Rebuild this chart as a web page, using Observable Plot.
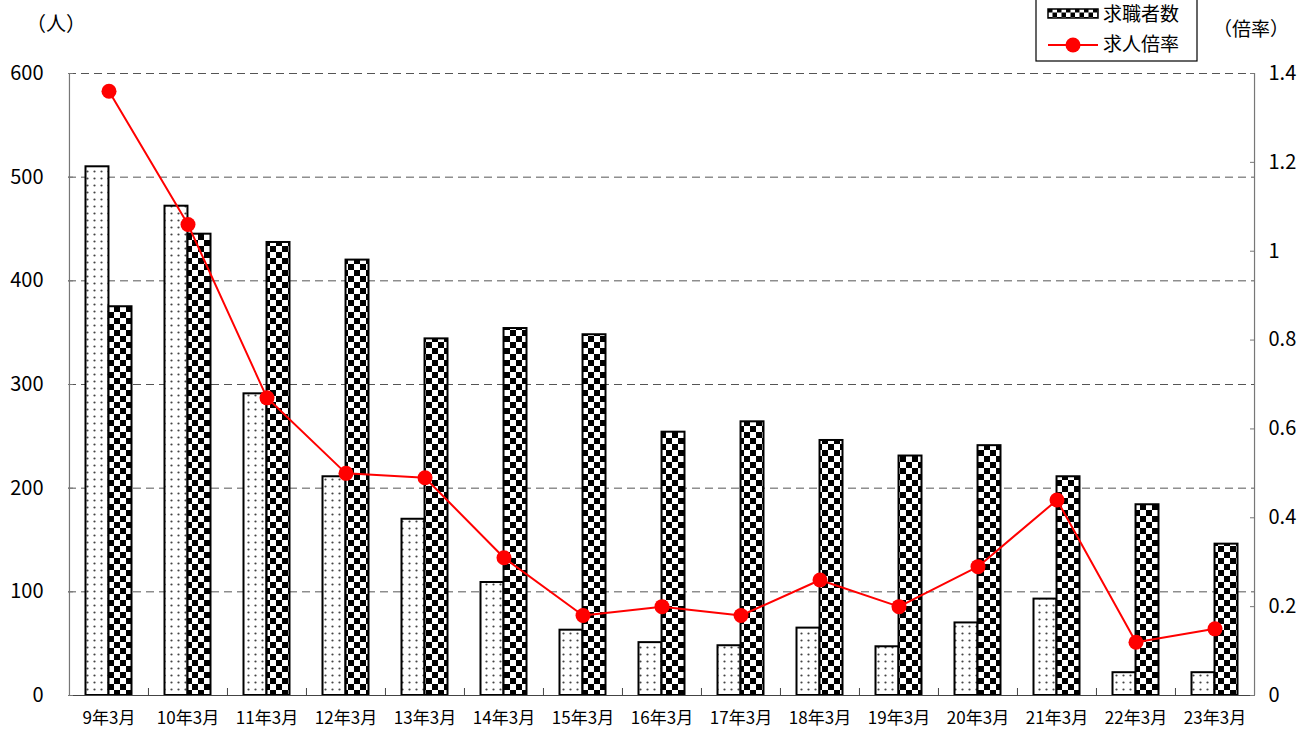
<!DOCTYPE html>
<html>
<head>
<meta charset="utf-8">
<script src="https://cdn.jsdelivr.net/npm/d3@7"></script>
<script src="https://cdn.jsdelivr.net/npm/@observablehq/plot@0.6"></script>
<style>
  html, body { margin: 0; padding: 0; background: #fff; }
  #chart svg { display: block; }
</style>
</head>
<body>
<div id="chart"></div>
<script>
// ---- data ----
const categories = ["9年3月","10年3月","11年3月","12年3月","13年3月","14年3月","15年3月","16年3月","17年3月","18年3月","19年3月","20年3月","21年3月","22年3月","23年3月"];
const offers  = [510, 472, 291, 211, 170, 109, 63, 51, 48, 65, 47, 70, 93, 22, 22];   // dotted bars
const seekers = [375, 445, 437, 420, 344, 354, 348, 254, 264, 246, 231, 241, 211, 184, 146]; // 求職者数
const ratios  = [1.36, 1.06, 0.67, 0.50, 0.49, 0.31, 0.18, 0.20, 0.18, 0.26, 0.20, 0.29, 0.44, 0.12, 0.15]; // 求人倍率
const leftTicks  = [0, 100, 200, 300, 400, 500, 600];
const rightTicks = [0, 0.2, 0.4, 0.6, 0.8, 1, 1.2, 1.4];
const leftMax = 600, rightMax = 1.4;
const legendLabels = ["求職者数", "求人倍率"];

const data = categories.map((c, i) => ({c, offers: offers[i], seekers: seekers[i], ratio: ratios[i]}));
const toLeft = r => r * leftMax / rightMax;

const W = 1301, H = 729, mL = 68, mR = 47, mT = 73, mB = 34;
const bw = (W - mL - mR) / categories.length;
const half = bw / 2;
const outer = 16.5;
const font = "'Noto Sans CJK JP', 'Noto Sans', sans-serif";

const chart = Plot.plot({
  width: W, height: H,
  marginLeft: mL, marginRight: mR, marginTop: mT, marginBottom: mB,
  x: {domain: categories, padding: 0, axis: null, label: null},
  y: {domain: [0, leftMax], axis: null, label: null},
  style: {fontFamily: font, background: "#fff", color: "#000"},
  marks: [
    Plot.ruleY(leftTicks.filter(v => v > 0), {stroke: "#555", strokeDasharray: "8,5", strokeWidth: 1}),
    Plot.barY(data, {x: "c", y: "offers", fill: "url(#dots)", stroke: "#000", strokeWidth: 2, insetLeft: outer, insetRight: half}),
    Plot.barY(data, {x: "c", y: "seekers", fill: "url(#checker)", stroke: "#000", strokeWidth: 2, insetLeft: half, insetRight: outer}),
    // axis lines
    Plot.ruleY([0], {stroke: "#444", strokeWidth: 1.2}),
    Plot.ruleX([categories[0]], {x: d => d, y1: 0, y2: leftMax, dx: -half, stroke: "#777", strokeWidth: 1.2}),
    Plot.ruleX([categories[categories.length - 1]], {x: d => d, y1: 0, y2: leftMax, dx: half, stroke: "#777", strokeWidth: 1.2}),
    // left axis
    Plot.axisY(leftTicks, {anchor: "left", label: null, tickSize: 0, tickPadding: 25, fontSize: 20, tickFormat: d => String(d)}),
    Plot.axisY(leftTicks, {anchor: "left", label: null, tickSize: 5, dx: 5, stroke: "#777", tickFormat: () => ""}),
    // right axis
    Plot.axisY(rightTicks.map(toLeft), {anchor: "right", label: null, tickSize: 0, tickPadding: 14, fontSize: 20,
      tickFormat: d => String(+(d * rightMax / leftMax).toFixed(1))}),
    Plot.axisY(rightTicks.map(toLeft), {anchor: "right", label: null, tickSize: 5, dx: -5, stroke: "#777", tickFormat: () => ""}),
    // x axis
    Plot.axisX(categories, {anchor: "bottom", label: null, tickSize: 0, tickPadding: 16, fontSize: 17}),
    Plot.axisX(categories.slice(1), {anchor: "bottom", label: null, tickSize: 7, dy: -7, dx: -half, stroke: "#444", tickFormat: () => ""}),
    // ratio line
    Plot.line(data, {x: "c", y: d => toLeft(d.ratio), stroke: "#ff0000", strokeWidth: 2}),
    Plot.dot(data, {x: "c", y: d => toLeft(d.ratio), r: 7.5, fill: "#ff0000", stroke: "none"})
  ]
});

const svg = d3.select(chart);
const defs = svg.insert("defs", ":first-child");
const dots = defs.append("pattern").attr("id", "dots").attr("patternUnits", "userSpaceOnUse")
  .attr("width", 7).attr("height", 7);
dots.append("rect").attr("width", 7).attr("height", 7).attr("fill", "#fff");
dots.append("circle").attr("cx", 3.5).attr("cy", 3.5).attr("r", 1.1).attr("fill", "#444");
const ck = defs.append("pattern").attr("id", "checker").attr("patternUnits", "userSpaceOnUse")
  .attr("width", 12).attr("height", 12);
ck.append("rect").attr("width", 12).attr("height", 12).attr("fill", "#fff");
ck.append("rect").attr("width", 6).attr("height", 6).attr("fill", "#000");
ck.append("rect").attr("x", 6).attr("y", 6).attr("width", 6).attr("height", 6).attr("fill", "#000");
const ck2 = defs.append("pattern").attr("id", "checkerSmall").attr("patternUnits", "userSpaceOnUse")
  .attr("width", 9).attr("height", 9).attr("x", 1048).attr("y", 8);
ck2.append("rect").attr("width", 9).attr("height", 9).attr("fill", "#fff");
ck2.append("rect").attr("width", 4.5).attr("height", 4.5).attr("fill", "#000");
ck2.append("rect").attr("x", 4.5).attr("y", 4.5).attr("width", 4.5).attr("height", 4.5).attr("fill", "#000");

// unit labels
const ann = svg.append("g").attr("font-family", font).attr("fill", "#000").attr("text-anchor", "start");
ann.append("text").attr("x", 26).attr("y", 26).attr("font-size", 20).attr("dominant-baseline", "middle").text("（人）");
ann.append("text").attr("x", 1213).attr("y", 31).attr("font-size", 19).attr("dominant-baseline", "middle").text("（倍率）");

// legend
const lg = svg.append("g").attr("font-family", font).attr("text-anchor", "start");
lg.append("rect").attr("x", 1036).attr("y", -5).attr("width", 161).attr("height", 66)
  .attr("fill", "#fff").attr("stroke", "#000").attr("stroke-width", 1.2);
lg.append("rect").attr("x", 1048).attr("y", 9).attr("width", 50).attr("height", 9)
  .attr("fill", "url(#checkerSmall)").attr("stroke", "#000").attr("stroke-width", 1.5);
lg.append("text").attr("x", 1103).attr("y", 16).attr("font-size", 19).attr("dominant-baseline", "middle").text(legendLabels[0]);
lg.append("line").attr("x1", 1048).attr("x2", 1098).attr("y1", 45).attr("y2", 45).attr("stroke", "#ff0000").attr("stroke-width", 2);
lg.append("circle").attr("cx", 1073).attr("cy", 45).attr("r", 7.5).attr("fill", "#ff0000");
lg.append("text").attr("x", 1103).attr("y", 46).attr("font-size", 19).attr("dominant-baseline", "middle").text(legendLabels[1]);

document.getElementById("chart").appendChild(chart);
</script>
</body>
</html>
